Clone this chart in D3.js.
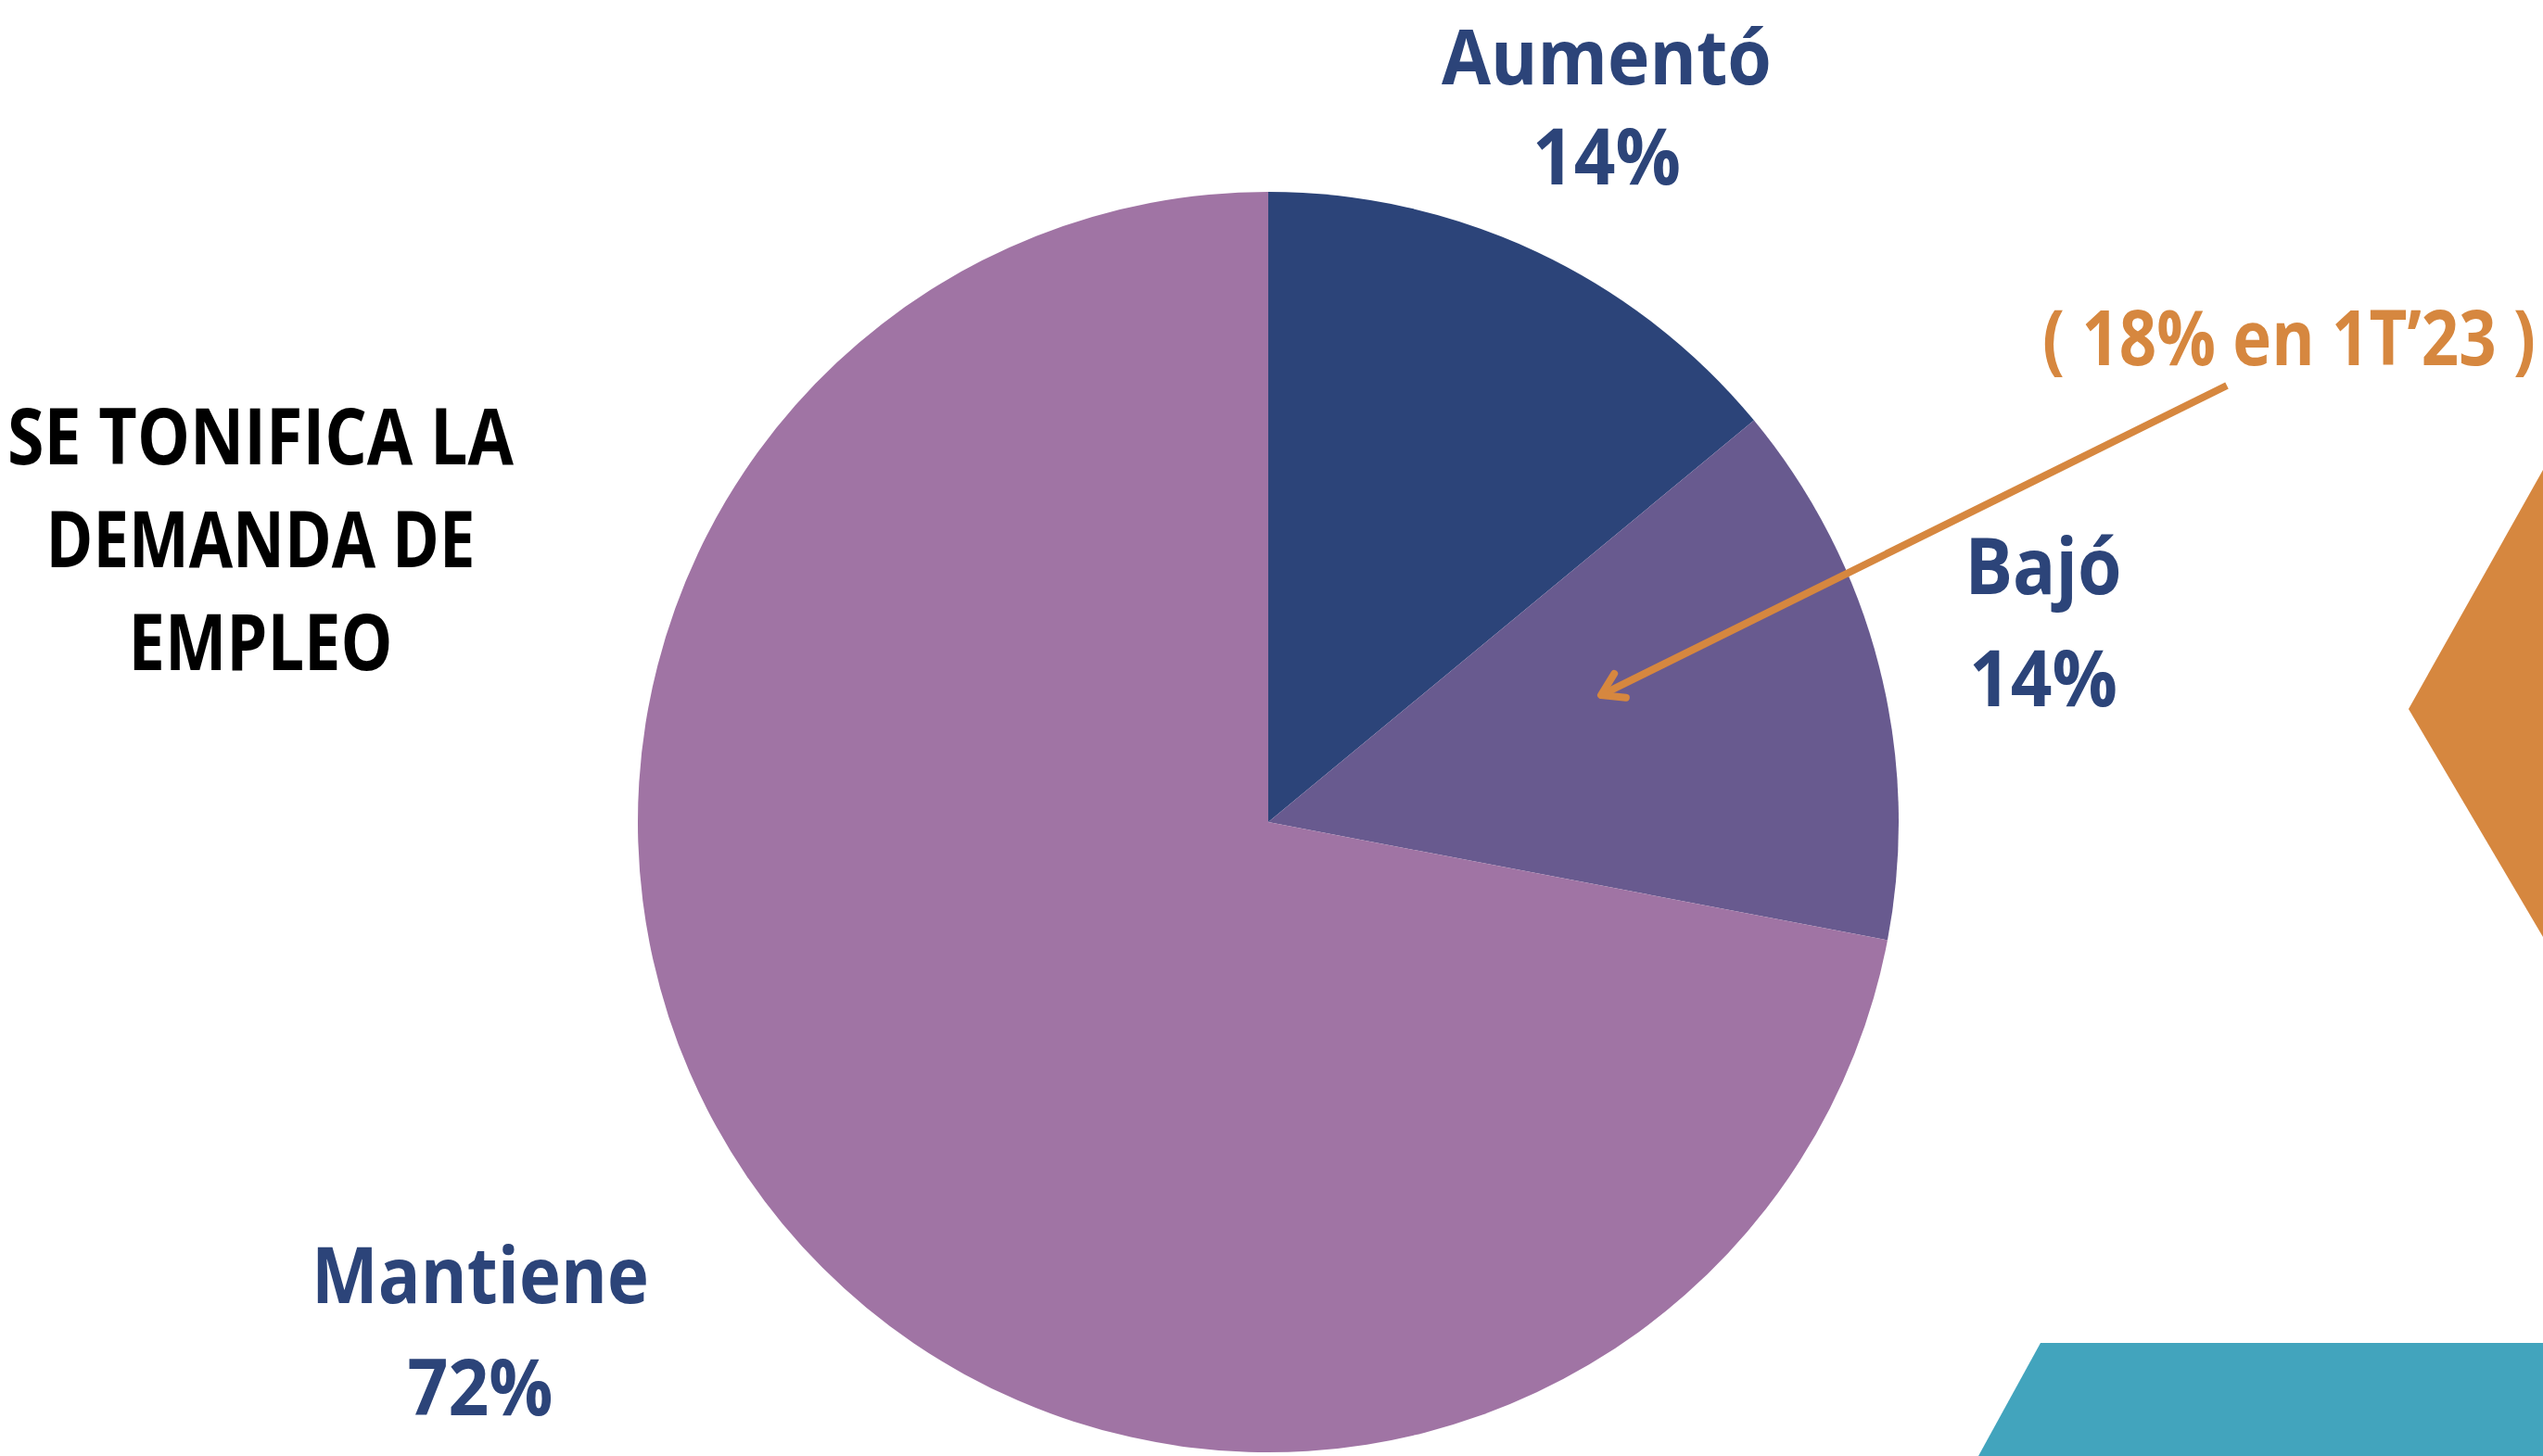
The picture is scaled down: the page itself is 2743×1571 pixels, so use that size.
<!DOCTYPE html>
<html>
<head>
<meta charset="utf-8">
<script src="https://cdn.jsdelivr.net/npm/d3@7"></script>
<style>
  html, body { margin: 0; padding: 0; background: #ffffff; }
  svg { display: block; }
</style>
</head>
<body>
<svg id="chart" width="2743" height="1571"></svg>
<script>
// ---- data ----
const categories = ["Aumentó", "Bajó", "Mantiene"];
const values = [14, 14, 72];
const valueLabels = ["14%", "14%", "72%"];
const titleLines = ["SE TONIFICA LA", "DEMANDA DE", "EMPLEO"];
const annotationText = "( 18% en 1T’23 )";

// ---- styles / layout ----
const sliceColors = ["#2c4479", "#685a8f", "#a074a4"];
const labelColor = "#2c4479";
const orange = "#d6873f";
const teal = "#42a4bd";
const W = 2743, H = 1571;
const cx = 1368, cy = 887, R = 680;
const FONT = "'Open Sans', 'Noto Sans', sans-serif";

const svg = d3.select("#chart");

// text helper: draw centred text, then scale horizontally to the target width
function fitText(x, y, str, size, width, fill) {
  const g = svg.append("g").attr("transform", `translate(${x},${y})`);
  const t = g.append("text")
    .attr("x", 0).attr("y", 0)
    .attr("text-anchor", "middle")
    .attr("font-family", FONT).attr("font-weight", 700)
    .attr("font-size", size).attr("fill", fill)
    .text(str);
  const natural = t.node().getComputedTextLength();
  if (natural > 0) t.attr("transform", `scale(${width / natural},1)`);
  return t;
}

// decorative shapes
const deco = svg.append("g");
deco.append("path")
  .attr("d", d3.line()([[W, 507], [2598, 765], [W, 1011]]) + "Z")
  .attr("fill", orange);
deco.append("path")
  .attr("d", d3.line()([[2201, 1449], [W, 1449], [W, H], [2134, H]]) + "Z")
  .attr("fill", teal);

// pie
const pie = d3.pie().sort(null).value(d => d);
const arc = d3.arc().innerRadius(0).outerRadius(R);
const color = d3.scaleOrdinal().domain(categories).range(sliceColors);

const g = svg.append("g").attr("transform", `translate(${cx},${cy})`);
g.selectAll("path.slice")
  .data(pie(values))
  .join("path")
  .attr("class", "slice")
  .attr("d", arc)
  .attr("fill", (d, i) => color(categories[i]));

// category labels (name + percent)
const labelLayout = [
  { x: 1733, y1: 91,  y2: 199,  w1: 356, w2: 160, s1: 82 },
  { x: 2204, y1: 641, y2: 762,  w1: 169, w2: 160, s1: 84 },
  { x: 518,  y1: 1406, y2: 1527, w1: 364, w2: 157, s1: 84 }
];
categories.forEach((c, i) => {
  const L = labelLayout[i];
  fitText(L.x, L.y1, c, L.s1, L.w1, labelColor);
  fitText(L.x, L.y2, valueLabels[i], 84, L.w2, labelColor);
});

// title
const titleWidths = [546, 463, 285];
titleLines.forEach((t, i) => {
  fitText(281, 501 + i * 111, t, 84, titleWidths[i], "#000000");
});

// annotation
fitText(2469, 394, annotationText, 82, 532, orange);

// arrow
const start = [2402, 416], tip = [1727, 750];
svg.append("path")
  .attr("d", d3.line()([start, tip]))
  .attr("stroke", orange).attr("stroke-width", 8).attr("fill", "none");
const ang = Math.atan2(start[1] - tip[1], start[0] - tip[0]);
const headLen = 27, spread = 0.56;
const a1 = [tip[0] + headLen * Math.cos(ang - spread), tip[1] + headLen * Math.sin(ang - spread)];
const a2 = [tip[0] + headLen * Math.cos(ang + spread), tip[1] + headLen * Math.sin(ang + spread)];
svg.append("path")
  .attr("d", d3.line()([a1, tip, a2]))
  .attr("stroke", orange).attr("stroke-width", 8).attr("fill", "none")
  .attr("stroke-linecap", "round").attr("stroke-linejoin", "round");
</script>
</body>
</html>
